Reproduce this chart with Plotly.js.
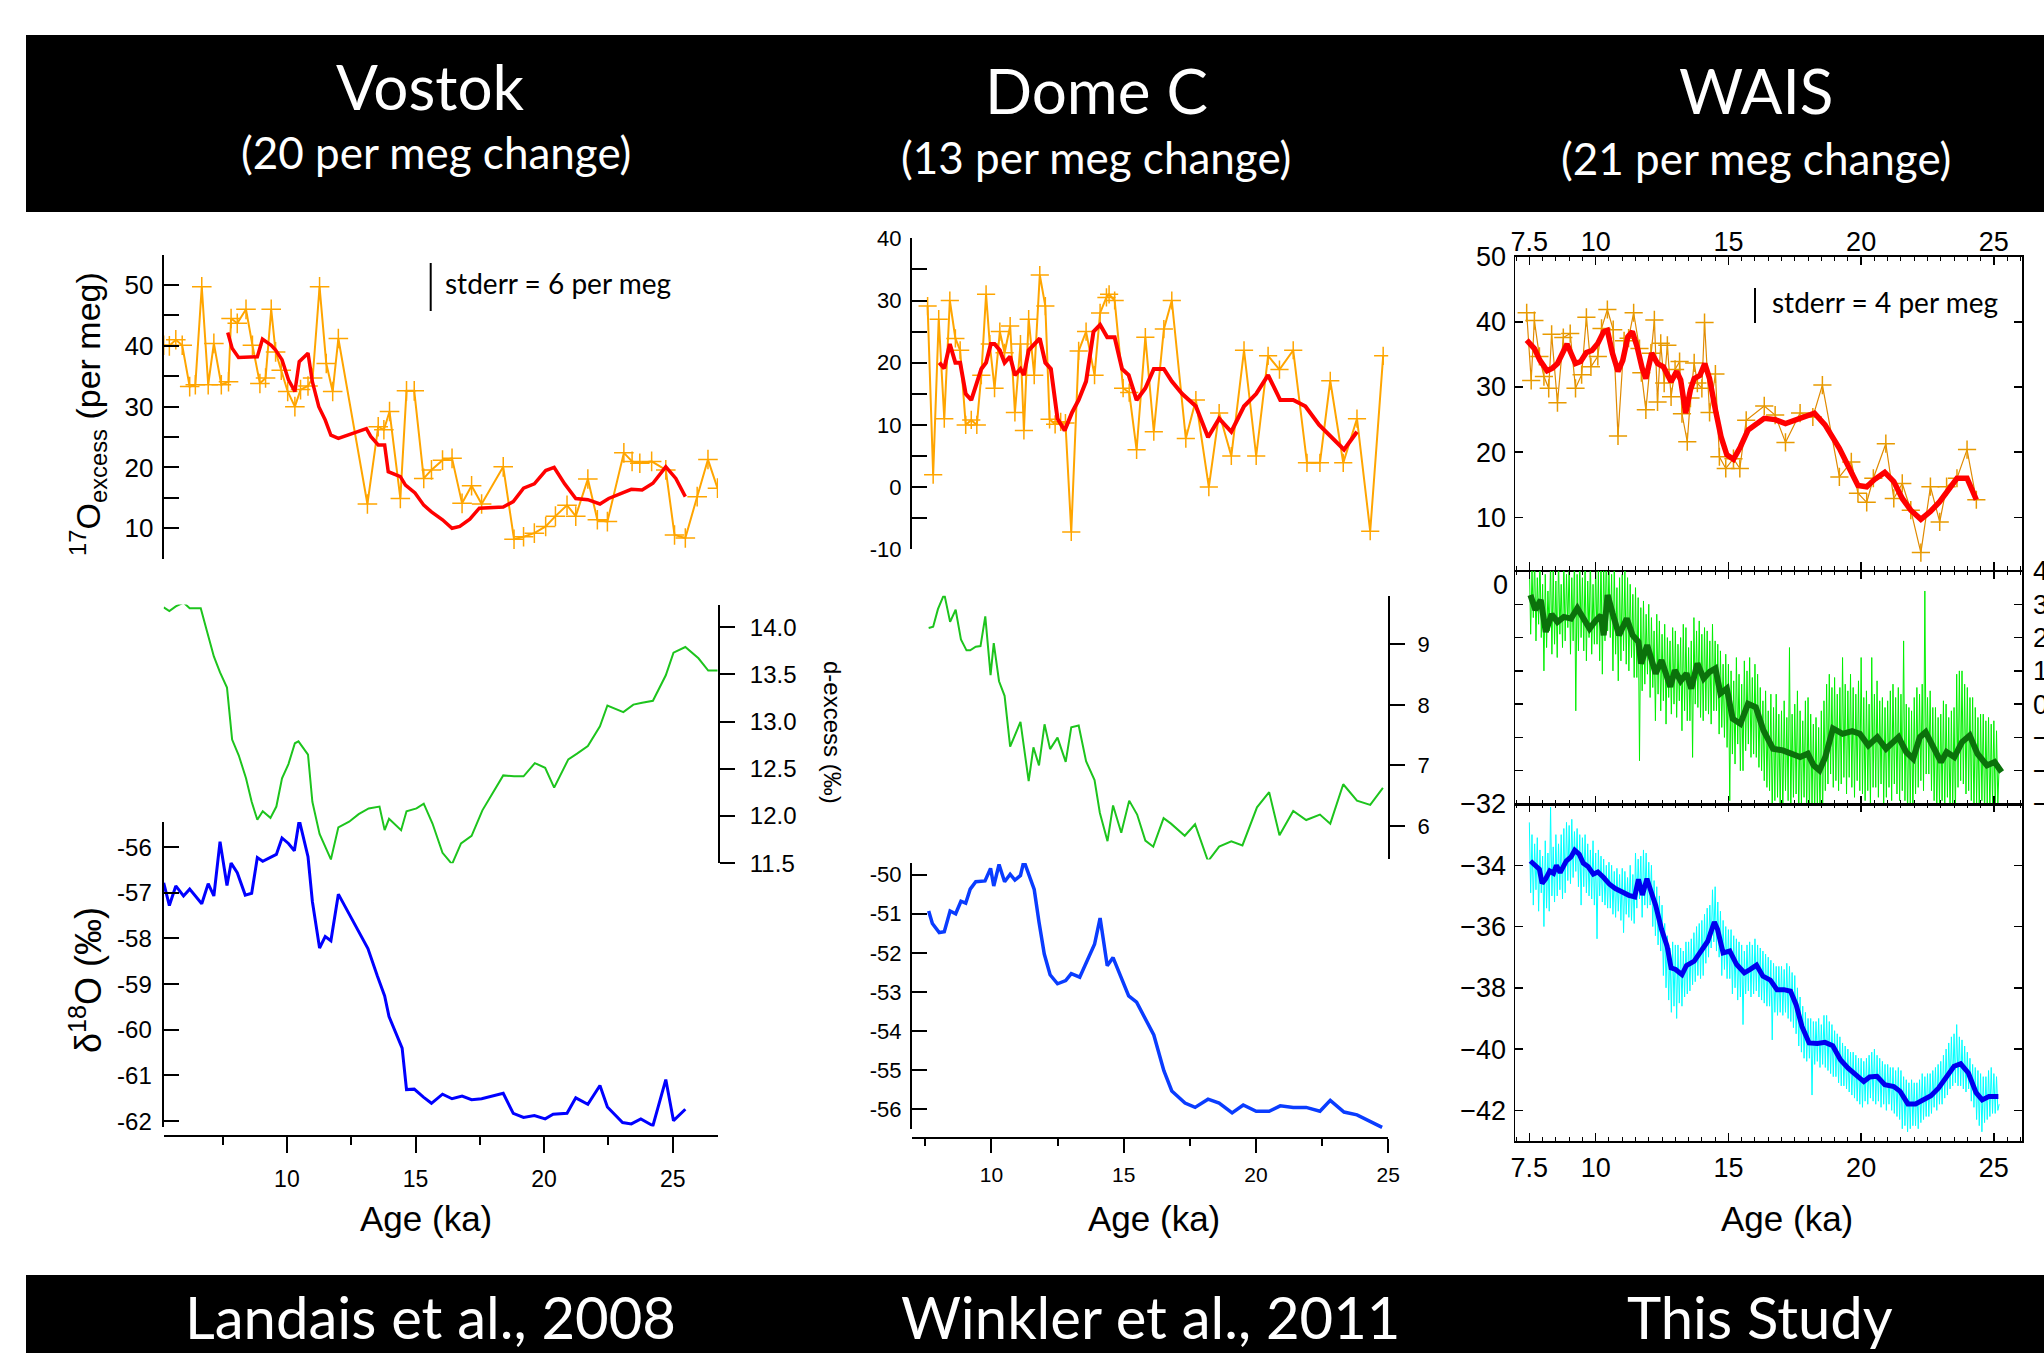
<!DOCTYPE html>
<html>
<head>
<meta charset="utf-8">
<script src="https://cdn.plot.ly/plotly-3.0.1.min.js"></script>
<style>html,body{margin:0;padding:0;background:#fff;}#chart{width:2044px;height:1353px;}</style>
</head>
<body>
<div id="chart"></div>
<script>
// ---------------- DATA ----------------
// Vostok (Landais et al., 2008)
const vAge17 = [5.21,5.43,5.68,5.93,6.22,6.44,6.69,6.94,7.16,7.45,7.73,7.83,8.07,8.41,8.66,8.95,9.17,9.39,9.56,9.78,10.03,10.31,10.53,10.82,11.0,11.27,11.53,11.78,12.0,13.13,13.55,13.77,13.99,14.41,14.65,14.95,15.32,15.62,16.05,16.42,16.81,17.18,17.57,18.41,18.83,19.2,19.62,20.06,20.44,20.89,21.23,21.7,22.07,22.46,23.1,23.42,23.72,24.18,24.73,25.07,25.49,25.95,26.37,26.74];
const v17 = [40.1,40.0,41.0,40.1,33.3,33.6,49.7,33.6,40.4,33.6,34.1,44.5,43.7,46.0,40.1,33.8,34.7,46.0,39.0,36.0,32.5,30.0,32.8,33.4,34.7,49.7,37.1,32.5,41.2,14.0,26.7,26.2,29.2,14.9,32.6,32.6,18.2,19.6,21.2,21.5,14.1,17.0,14.0,20.1,8.2,8.6,9.2,10.3,12.0,13.8,12.0,18.1,11.4,11.1,22.4,21.0,20.7,21.0,19.6,8.9,8.4,15.2,21.3,16.6];
const vAgeSm = [7.70,7.87,8.12,8.46,8.85,9.05,9.39,9.56,9.81,10.06,10.31,10.48,10.82,10.99,11.24,11.49,11.71,12.0,13.09,13.26,13.55,13.80,13.94,14.41,14.61,14.98,15.32,15.62,16.05,16.42,16.72,17.11,17.48,18.41,18.80,19.2,19.62,20.06,20.39,20.8,21.23,21.7,22.17,22.51,23.05,23.39,23.81,24.23,24.73,25.12,25.49];
const v17Sm = [42.2,39.6,38.1,38.1,38.2,41.1,40.1,39.3,37.7,34.4,32.5,37.4,38.8,34.1,30.0,27.8,25.3,24.8,26.4,25.1,23.7,23.7,19.3,18.5,17.1,15.8,13.8,12.7,11.4,10.0,10.3,11.5,13.3,13.5,14.4,16.6,17.3,19.5,20.0,17.3,14.9,14.7,14.0,14.9,15.8,16.4,16.3,17.4,20.1,18.2,15.2];
const vAgeDx = [5.21,5.43,5.68,5.98,6.22,6.65,6.89,7.16,7.40,7.67,7.87,8.13,8.41,8.63,8.85,9.06,9.36,9.59,9.81,10.06,10.31,10.45,10.82,10.99,11.27,11.49,11.71,12.0,12.42,12.79,13.18,13.6,13.8,13.97,14.44,14.65,15.04,15.32,15.66,16.05,16.42,16.77,17.18,17.6,17.99,18.41,18.83,19.2,19.64,20.04,20.39,20.94,21.28,21.7,22.17,22.46,23.08,23.47,23.81,24.23,24.73,25.03,25.49,26.0,26.38,26.74];
const vDx = [14.21,14.17,14.22,14.26,14.20,14.20,13.96,13.69,13.52,13.36,12.81,12.64,12.40,12.15,11.96,12.05,11.98,12.10,12.40,12.55,12.77,12.79,12.65,12.15,11.81,11.68,11.54,11.88,11.94,12.02,12.08,12.10,11.85,11.97,11.85,12.05,12.08,12.13,11.92,11.61,11.49,11.71,11.79,12.06,12.24,12.43,12.42,12.42,12.56,12.51,12.30,12.60,12.66,12.74,12.95,13.17,13.10,13.18,13.20,13.22,13.49,13.73,13.79,13.67,13.54,13.54];
const vAgeD18 = [5.21,5.43,5.68,5.98,6.22,6.69,6.94,7.16,7.40,7.67,7.83,8.07,8.38,8.63,8.85,9.06,9.59,9.81,10.06,10.29,10.48,10.82,10.99,11.27,11.49,11.71,12.0,12.59,13.15,13.52,13.8,13.97,14.48,14.65,14.95,15.32,15.62,16.05,16.42,16.81,17.18,17.57,17.99,18.41,18.8,19.2,19.62,20.04,20.35,20.89,21.23,21.7,22.17,22.46,23.05,23.39,23.76,24.23,24.73,25.03,25.49];
const vD18 = [-56.78,-57.28,-56.85,-57.07,-56.92,-57.24,-56.80,-57.07,-55.88,-56.84,-56.35,-56.56,-57.05,-57.01,-56.23,-56.31,-56.16,-55.80,-55.92,-56.08,-55.41,-56.21,-57.19,-58.21,-57.96,-58.05,-57.03,-57.64,-58.22,-58.83,-59.26,-59.71,-60.40,-61.31,-61.30,-61.48,-61.61,-61.41,-61.51,-61.45,-61.53,-61.51,-61.45,-61.39,-61.83,-61.92,-61.88,-61.95,-61.85,-61.83,-61.49,-61.63,-61.22,-61.69,-62.03,-62.06,-61.95,-62.10,-61.09,-61.99,-61.74];

// Dome C (Winkler et al., 2011)
const dAge17 = [7.59,7.80,8.01,8.22,8.43,8.64,8.82,9.03,9.24,9.45,9.62,9.80,9.94,10.12,10.32,10.50,10.71,10.89,11.10,11.23,11.41,11.62,11.83,12.04,12.2,12.41,12.62,12.80,13.02,13.30,13.58,13.90,14.11,14.35,14.45,14.66,14.98,15.21,15.49,15.82,16.14,16.52,16.82,17.35,17.73,18.22,18.61,19.07,19.55,20.01,20.46,20.89,21.41,21.93,22.42,22.81,23.30,23.82,24.32,24.81];
const d17 = [29.1,2.0,27.0,11.0,30.0,23.9,22.0,10.0,10.8,10.0,18.0,31.0,23.0,15.9,25.0,21.6,25.9,12.0,23.0,9.1,27.0,18.0,34.1,29.1,10.9,10.1,10.5,10.3,-7.2,21.9,25.0,18.0,28.0,30.5,31.0,30.0,15.9,15.2,6.0,24.1,8.9,25.4,30.0,7.8,14.0,0.0,11.9,5.0,22.0,5.0,21.1,18.9,22.0,3.9,3.9,17.1,3.9,11.0,-7.1,21.1];
const dAgeSm = [8.03,8.22,8.43,8.64,8.82,9.03,9.24,9.62,9.80,9.98,10.12,10.32,10.50,10.71,10.89,11.10,11.23,11.41,11.83,12.04,12.25,12.5,12.77,13.05,13.30,13.58,13.86,14.11,14.38,14.66,14.94,15.19,15.49,15.82,16.14,16.52,16.82,17.21,17.73,18.19,18.61,19.07,19.55,20.01,20.46,20.92,21.41,21.87,22.39,22.85,23.33,23.82];
const dSm = [20.0,19.1,23.0,20.0,20.0,15.0,14.0,19.0,20.0,23.0,23.0,22.0,20.0,21.0,18.0,19.0,18.0,22.0,23.9,20.0,19.0,11.0,9.1,12.0,14.0,17.0,25.0,26.1,24.1,24.1,19.0,18.0,14.0,15.9,19.0,19.0,17.0,15.0,13.0,8.0,11.0,8.9,13.0,15.0,18.0,14.0,14.0,13.0,10.0,8.0,6.0,8.9];
const dAgeDx = [7.63,7.8,7.98,8.22,8.44,8.65,8.85,9.06,9.2,9.41,9.59,9.77,9.97,10.09,10.29,10.5,10.71,11.1,11.41,11.59,11.80,12.01,12.22,12.5,12.81,13.02,13.30,13.58,13.90,14.10,14.39,14.6,14.91,15.21,15.51,15.82,16.12,16.51,16.79,17.31,17.70,18.19,18.61,19.07,19.49,20.04,20.5,20.89,21.41,21.9,22.42,22.81,23.30,23.82,24.32,24.80];
const dDx = [9.27,9.29,9.58,9.83,9.37,9.57,9.08,8.90,8.90,8.96,8.97,9.46,8.49,9.02,8.39,8.15,7.31,7.72,6.74,7.30,7.0,7.68,7.27,7.46,7.06,7.63,7.66,7.07,6.76,6.22,5.75,6.34,5.89,6.42,6.19,5.76,5.66,6.13,6.04,5.84,6.03,5.42,5.66,5.75,5.68,6.31,6.56,5.85,6.25,6.10,6.19,6.04,6.69,6.42,6.35,6.63];
const dAgeD18 = [7.63,7.77,8.03,8.22,8.44,8.65,8.85,9.03,9.2,9.41,9.76,9.97,10.09,10.29,10.5,10.71,10.89,11.1,11.23,11.41,11.62,11.80,12.0,12.22,12.5,12.81,13.02,13.34,13.58,13.90,14.11,14.38,14.6,14.91,15.19,15.49,15.82,16.14,16.52,16.82,17.32,17.7,18.19,18.61,19.10,19.52,20.01,20.50,20.92,21.41,21.9,22.42,22.81,23.33,23.82,24.32,24.77];
const dD18 = [-50.93,-51.25,-51.48,-51.46,-50.93,-51.0,-50.68,-50.73,-50.37,-50.18,-50.16,-49.84,-50.29,-49.74,-50.18,-49.99,-50.14,-50.02,-49.65,-49.97,-50.38,-51.21,-52.03,-52.56,-52.79,-52.71,-52.53,-52.62,-52.26,-51.78,-51.11,-52.33,-52.12,-52.64,-53.10,-53.26,-53.70,-54.1,-55.01,-55.53,-55.84,-55.95,-55.74,-55.84,-56.09,-55.89,-56.05,-56.05,-55.91,-55.95,-55.95,-56.05,-55.77,-56.07,-56.14,-56.32,-56.46];

// WAIS (This Study)
const wAge17 = [7.40,7.57,7.69,7.88,8.05,8.23,8.34,8.56,8.78,9.04,9.24,9.47,9.65,9.82,10.08,10.22,10.44,10.66,10.84,11.07,11.24,11.43,11.65,11.72,11.89,12.08,12.21,12.33,12.45,12.58,12.70,12.84,12.99,13.16,13.25,13.45,13.57,13.71,13.83,14.00,14.1,14.29,14.51,14.66,14.9,15.19,15.43,15.67,16.35,16.76,17.15,17.70,18.18,18.54,19.18,19.63,19.88,20.21,20.46,20.93,21.23,21.55,21.87,22.25,22.61,22.96,23.22,23.61,23.99,24.34];
const w17 = [41.4,31.0,40.2,34.7,31.6,29.8,38.1,27.6,37.6,38.2,29.8,31.9,40.7,33.1,34.7,39.0,41.9,38.8,22.5,37.1,37.5,41.4,35.9,32.2,26.5,35.2,40.3,27.7,36.7,30.6,36.4,28.5,32.7,33.9,25.9,21.6,28.3,33.7,30.6,29.8,39.9,26.1,32.0,19.3,17.5,19.0,17.5,24.9,27.1,25.7,21.5,26.0,25.4,30.3,16.2,18.5,13.7,12.3,16.0,21.3,12.9,15.2,11.1,4.6,14.7,9.3,14.7,16.0,20.4,12.7];
const wAgeSm = [7.40,7.69,7.9,8.17,8.37,8.56,8.92,9.24,9.43,9.65,9.86,10.08,10.3,10.44,10.63,10.84,11.02,11.21,11.38,11.56,11.75,11.89,12.11,12.33,12.55,12.84,13.05,13.2,13.39,13.57,13.71,13.93,14.11,14.29,14.51,14.72,14.94,15.19,15.45,15.74,16.35,16.76,17.15,17.70,18.24,18.64,19.18,19.52,19.88,20.21,20.5,20.89,21.23,21.55,21.87,22.25,22.61,22.96,23.29,23.61,23.99,24.34];
const wSm = [37.2,35.9,34.1,32.5,32.9,33.6,36.6,33.6,33.9,35.3,35.6,36.7,38.5,38.7,35.2,32.4,34.1,37.7,38.5,36.2,32.9,31.3,35.2,33.6,33.1,30.8,32.4,31.1,26.0,29.6,31.3,31.8,33.6,31.3,26.5,22.4,19.6,18.9,20.8,23.4,25.2,25.0,24.4,25.2,26.0,24.2,20.6,17.8,14.9,14.7,15.8,16.9,15.5,12.9,11.1,9.7,10.9,12.4,14.3,16.0,16.0,12.7];
const wNoiseAge = [7.5,7.55,7.6,7.65,7.7,7.75,7.8,7.85,7.9,7.95,8.0,8.05,8.1,8.15,8.2,8.25,8.3,8.35,8.4,8.45,8.5,8.55,8.6,8.65,8.7,8.75,8.8,8.85,8.9,8.95,9.0,9.05,9.1,9.15,9.2,9.25,9.3,9.35,9.4,9.45,9.5,9.55,9.6,9.65,9.7,9.75,9.8,9.85,9.9,9.95,10.0,10.05,10.1,10.15,10.2,10.25,10.3,10.35,10.4,10.45,10.5,10.55,10.6,10.65,10.7,10.75,10.8,10.85,10.9,10.95,11.0,11.05,11.1,11.15,11.2,11.25,11.3,11.35,11.4,11.45,11.5,11.55,11.6,11.65,11.7,11.75,11.8,11.85,11.9,11.95,12.0,12.05,12.1,12.15,12.2,12.25,12.3,12.35,12.4,12.45,12.5,12.55,12.6,12.65,12.7,12.75,12.8,12.85,12.9,12.95,13.0,13.05,13.1,13.15,13.2,13.25,13.3,13.35,13.4,13.45,13.5,13.55,13.6,13.65,13.7,13.75,13.8,13.85,13.9,13.95,14.0,14.05,14.1,14.15,14.2,14.25,14.3,14.35,14.4,14.45,14.5,14.55,14.6,14.65,14.7,14.75,14.8,14.85,14.9,14.95,15.0,15.05,15.1,15.15,15.2,15.25,15.3,15.35,15.4,15.45,15.5,15.55,15.6,15.65,15.7,15.75,15.8,15.85,15.9,15.95,16.0,16.05,16.1,16.15,16.2,16.25,16.3,16.35,16.4,16.45,16.5,16.55,16.6,16.65,16.7,16.75,16.8,16.85,16.9,16.95,17.0,17.05,17.1,17.15,17.2,17.25,17.3,17.35,17.4,17.45,17.5,17.55,17.6,17.65,17.7,17.75,17.8,17.85,17.9,17.95,18.0,18.05,18.1,18.15,18.2,18.25,18.3,18.35,18.4,18.45,18.5,18.55,18.6,18.65,18.7,18.75,18.8,18.85,18.9,18.95,19.0,19.05,19.1,19.15,19.2,19.25,19.3,19.35,19.4,19.45,19.5,19.55,19.6,19.65,19.7,19.75,19.8,19.85,19.9,19.95,20.0,20.05,20.1,20.15,20.2,20.25,20.3,20.35,20.4,20.45,20.5,20.55,20.6,20.65,20.7,20.75,20.8,20.85,20.9,20.95,21.0,21.05,21.1,21.15,21.2,21.25,21.3,21.35,21.4,21.45,21.5,21.55,21.6,21.65,21.7,21.75,21.8,21.85,21.9,21.95,22.0,22.05,22.1,22.15,22.2,22.25,22.3,22.35,22.4,22.45,22.5,22.55,22.6,22.65,22.7,22.75,22.8,22.85,22.9,22.95,23.0,23.05,23.1,23.15,23.2,23.25,23.3,23.35,23.4,23.45,23.5,23.55,23.6,23.65,23.7,23.75,23.8,23.85,23.9,23.95,24.0,24.05,24.1,24.15,24.2,24.25,24.3,24.35,24.4,24.45,24.5,24.55,24.6,24.65,24.7,24.75,24.8,24.85,24.9,24.95,25.0,25.05,25.1,25.15,25.2];
const wDxNoise = [
 4.3,2.1,4.0,2.6,4.4,1.9,3.8,2.4,4.5,2.0, 3.6,1.0,3.9,1.7,3.4,2.2,4.3,1.5,4.1,1.8,
 3.7,1.4,4.4,2.1,3.6,1.7,4.2,1.9,3.9,2.3, 4.2,1.5,3.8,1.9,4.5,-0.2,3.9,1.6,4.3,2.0,
 3.8,1.6,4.1,1.3,3.7,2.0,4.4,1.5,3.6,1.8, 4.2,1.8,4.0,1.3,4.5,0.9,4.3,1.9,4.6,2.2,
 4.1,2.0,3.9,1.0,4.2,1.5,3.5,0.7,3.8,1.3, 3.9,1.6,4.0,1.2,3.8,1.0,3.6,1.4,3.3,0.8,
 3.5,0.8,3.2,-1.7,2.9,0.4,3.1,0.6,2.7,0.9, 3.0,0.2,2.6,0.5,2.2,-0.5,2.7,0.3,2.5,-0.2,
 2.1,0.1,2.4,-0.6,2.0,0.2,1.9,-0.3,2.3,0.0, 2.2,-0.4,1.8,0.1,2.0,-0.8,2.4,-0.2,2.3,-0.5,
 1.7,-0.5,1.9,-1.6,2.6,0.0,2.2,-0.1,2.5,-0.4, 2.1,-0.5,2.3,-0.2,2.2,-0.3,1.9,-0.6,2.4,-0.2,
 1.9,-0.2,1.8,-0.9,1.6,-0.7,1.2,-1.0,1.5,-1.3, 1.2,-2.9,1.0,-1.5,0.7,-1.8,1.4,-1.2,0.9,-2.0,
 0.6,-2.0,1.3,-1.4,1.0,-1.2,1.4,-1.6,0.8,-1.5, 1.2,-1.6,0.9,-1.9,0.5,-2.0,0.1,-2.3,0.4,-2.5,
 -0.2,-2.6,0.3,-3.4,-0.1,-2.9,0.3,-2.8,-0.3,-3.2, -0.2,-3.4,0.1,-2.6,-0.4,-2.9,1.7,-3.3,-0.3,-2.8,
 0.0,-2.7,0.4,-3.4,-0.2,-3.0,-0.5,-2.8,0.1,-3.3, 0.2,-3.4,-0.3,-3.0,-0.6,-3.4,-0.4,-3.2,-0.7,-3.4,
 -0.2,-3.4,0.1,-2.6,0.6,-2.4,0.9,-2.1,0.5,-2.5, 0.8,-2.3,0.3,-2.6,0.5,-2.4,1.4,-2.2,0.6,-2.7,
 0.4,-2.2,0.9,-2.5,0.5,-2.8,0.3,-2.3,0.7,-2.6, 1.4,-2.7,0.2,-2.9,0.4,-2.6,0.0,-3.1,1.4,-2.5,
 0.3,-2.5,0.7,-2.8,0.1,-2.4,0.2,-3.0,-0.1,-2.8, 0.1,-2.5,0.4,-2.9,0.6,-2.4,0.2,-2.7,0.5,-2.9,
 0.3,-2.6,1.9,-2.9,0.0,-3.4,-0.1,-3.0,-0.2,-3.4, 0.2,-2.7,0.5,-2.5,0.3,-2.3,0.6,-2.6,3.4,-2.1,
 0.2,-2.1,0.4,-2.6,-0.1,-2.9,-0.1,-3.4,-0.4,-3.0, -0.3,-2.9,0.1,-3.2,0.0,-2.8,-0.4,-3.4,-0.2,-3.1,
 -0.1,-3.4,0.9,-2.5,1.0,-2.3,1.0,-2.4,0.6,-2.7, 0.5,-2.6,0.2,-2.9,0.2,-3.4,-0.1,-3.0,-0.4,-3.3,
 -0.3,-2.9,-0.3,-3.4,-0.5,-3.0,-0.4,-3.4,-0.6,-3.0, -0.5,-3.4,-0.8,-3.0,-1.8];
const wAgeDs = [7.54,7.73,7.93,8.12,8.34,8.56,8.80,9.07,9.31,9.53,9.77,10.01,10.2,10.3,10.45,10.64,10.88,11.17,11.39,11.61,11.71,11.94,12.26,12.48,12.81,12.98,13.2,13.42,13.6,13.83,14.07,14.29,14.51,14.70,14.94,15.16,15.45,15.74,16.03,16.32,16.68,17.05,17.34,17.70,17.99,18.21,18.43,18.65,18.94,19.30,19.66,19.95,20.27,20.61,20.94,21.19,21.41,21.70,21.96,22.21,22.43,22.72,23.01,23.22,23.51,23.80,24.09,24.38,24.74,25.03,25.29];
const wDs = [3.28,2.83,3.13,2.17,2.70,2.47,2.62,2.57,2.88,2.57,2.27,2.52,2.67,2.07,3.28,2.72,2.07,2.57,2.07,1.87,1.22,1.77,0.92,1.32,0.52,1.02,0.70,0.92,0.47,1.22,0.77,0.97,1.07,0.32,0.47,-0.44,-0.59,0.01,-0.09,-0.79,-1.34,-1.39,-1.49,-1.59,-1.49,-1.84,-1.99,-1.59,-0.73,-0.89,-0.81,-0.89,-1.24,-0.99,-1.34,-1.14,-0.99,-1.44,-1.64,-0.99,-0.84,-1.29,-1.74,-1.44,-1.59,-1.14,-0.94,-1.49,-1.84,-1.74,-2.04];
const wD18Noise = [
 -32.6,-34.9,-33.0,-35.3,-33.3,-34.8,-33.1,-35.5,-33.5,-34.9, -33.7,-36.0,-33.2,-35.4,-33.6,-35.5,-32.1,-35.0,-33.4,-35.2,
 -33.0,-35.0,-33.3,-34.8,-33.0,-35.1,-32.8,-34.9,-32.6,-34.5, -32.7,-34.6,-32.5,-34.4,-32.9,-34.2,-32.8,-34.7,-33.0,-35.3,
 -33.1,-34.7,-33.0,-34.9,-33.3,-35.0,-33.5,-35.1,-33.2,-35.3, -33.6,-36.4,-33.5,-35.0,-33.7,-35.2,-33.8,-35.3,-34.0,-35.4,
 -33.9,-35.4,-34.0,-35.6,-34.2,-35.7,-34.1,-35.5,-34.3,-35.8, -34.1,-36.2,-34.2,-35.6,-34.4,-35.7,-34.0,-35.8,-34.3,-35.9,
 -33.6,-35.4,-33.8,-35.1,-33.7,-35.7,-33.5,-35.3,-33.6,-35.4, -33.9,-35.3,-34.0,-36.0,-34.5,-36.3,-34.7,-36.6,-35.0,-36.8,
 -35.3,-37.6,-35.9,-38.0,-36.3,-38.4,-36.7,-38.8,-36.5,-38.6, -36.6,-39.0,-36.6,-38.5,-36.7,-38.6,-36.8,-38.3,-36.5,-38.2,
 -36.5,-38.1,-36.4,-37.9,-36.2,-37.8,-36.0,-37.6,-35.9,-37.7, -35.8,-37.6,-35.6,-37.2,-35.4,-37.0,-35.3,-36.7,-34.8,-36.5,
 -34.7,-36.8,-35.2,-37.0,-35.5,-37.6,-35.8,-37.4,-36.0,-37.7, -36.1,-37.7,-36.1,-38.2,-36.3,-38.0,-36.4,-38.4,-36.5,-38.3,
 -36.6,-39.2,-36.8,-38.2,-36.6,-38.1,-36.5,-38.3,-36.6,-38.2, -36.4,-38.1,-36.6,-38.3,-36.7,-38.4,-36.8,-38.5,-36.9,-38.6,
 -37.0,-38.6,-37.1,-39.7,-37.2,-38.8,-37.3,-38.9,-37.3,-38.8, -37.3,-38.9,-37.4,-38.8,-37.2,-39.0,-37.3,-39.1,-37.5,-39.3,
 -37.6,-39.5,-38.0,-39.9,-38.3,-40.1,-38.6,-40.3,-38.8,-40.4, -39.0,-40.3,-39.0,-41.5,-39.1,-40.5,-39.1,-40.4,-39.0,-40.6,
 -39.2,-40.5,-38.9,-40.6,-38.9,-40.7,-39.1,-40.8,-39.2,-40.9, -39.4,-40.9,-39.5,-41.1,-39.6,-41.2,-39.8,-41.2,-39.9,-41.3,
 -40.0,-41.4,-40.1,-41.5,-40.1,-41.6,-40.2,-41.7,-40.3,-41.8, -40.3,-41.9,-40.4,-41.7,-40.3,-41.8,-40.2,-41.6,-40.1,-41.7,
 -40.0,-41.8,-40.2,-41.7,-40.3,-41.9,-40.4,-41.8,-40.5,-42.0, -40.5,-41.8,-40.6,-42.0,-40.6,-42.1,-40.7,-42.2,-40.6,-42.3,
 -40.7,-42.6,-40.9,-42.5,-41.0,-42.7,-41.1,-42.6,-41.0,-42.5, -41.1,-42.5,-41.1,-42.6,-41.0,-42.4,-40.8,-42.3,-40.9,-42.2,
 -40.8,-42.2,-40.8,-42.1,-40.7,-41.9,-40.6,-42.0,-40.5,-41.8, -40.4,-41.8,-40.2,-41.6,-40.0,-41.5,-39.8,-41.3,-39.6,-41.2,
 -39.5,-41.1,-39.2,-41.2,-39.6,-41.2,-39.7,-41.3,-39.9,-41.4, -40.1,-41.3,-40.3,-41.7,-40.5,-41.9,-40.6,-42.3,-40.7,-42.5,
 -40.8,-42.7,-40.9,-42.4,-40.9,-42.3,-40.7,-42.2,-40.6,-42.1, -40.8,-42.1,-40.9,-42.0,-41.8];
const wAgeBs = [7.54,7.73,7.88,7.98,8.12,8.27,8.41,8.52,8.66,8.89,9.07,9.21,9.38,9.53,9.72,9.91,10.08,10.30,10.52,10.74,10.99,11.25,11.47,11.61,11.76,11.93,12.11,12.26,12.48,12.69,12.84,13.01,13.25,13.42,13.71,14.00,14.22,14.47,14.59,14.80,15.05,15.31,15.60,15.82,16.06,16.30,16.58,16.83,17.09,17.34,17.55,17.77,18.04,18.35,18.64,18.93,19.22,19.51,19.81,20.10,20.32,20.60,20.89,21.23,21.47,21.76,22.05,22.34,22.63,22.92,23.21,23.50,23.75,24.04,24.33,24.56,24.81,25.17];
const wBs = [-33.86,-34.0,-34.13,-34.59,-34.44,-34.19,-34.26,-34.0,-34.24,-33.86,-33.73,-33.51,-33.64,-33.93,-34.05,-34.29,-34.22,-34.40,-34.62,-34.76,-34.87,-34.98,-35.03,-34.46,-34.97,-34.44,-34.92,-35.31,-36.09,-36.64,-37.35,-37.40,-37.57,-37.27,-37.13,-36.73,-36.48,-35.85,-36.09,-36.86,-36.80,-37.24,-37.51,-37.40,-37.26,-37.62,-37.75,-38.06,-38.06,-38.11,-38.55,-39.26,-39.80,-39.82,-39.78,-39.89,-40.35,-40.62,-40.84,-41.06,-40.91,-40.89,-41.16,-41.22,-41.38,-41.79,-41.79,-41.66,-41.52,-41.27,-40.89,-40.56,-40.48,-40.78,-41.42,-41.66,-41.55,-41.55];

// tick labels
const ageTicks = [10,15,20,25];
const ageMinor = [7.5,12.5,17.5,22.5];
const wAgeTicks = [7.5,10,15,20,25];
const vDxTicks = [11.5,12.0,12.5,13.0,13.5,14.0];
const vDxText = ['11.5','12.0','12.5','13.0','13.5','14.0'];
const vD18Ticks = [-62,-61,-60,-59,-58,-57,-56];
const vD18Text = ['-62','-61','-60','-59','-58','-57','-56'];
const d17Ticks = [-10,0,10,20,30,40];
const d17Text = ['-10','0','10','20','30','40'];
const dD18Ticks = [-56,-55,-54,-53,-52,-51,-50];
const dD18Text = ['-56','-55','-54','-53','-52','-51','-50'];

// ---------------- LAYOUT HELPERS ----------------
const W = 2044, H = 1353;
const fx = p => p / W;
const fy = p => 1 - p / H;
const AXF = 'Liberation Sans, Arial, sans-serif';
const BF = 'Lato, Open Sans, sans-serif';

function ax(extra) {
  return Object.assign({
    showline: true, linecolor: '#000', linewidth: 2,
    tickcolor: '#000', tickwidth: 2, showgrid: false, zeroline: false,
    fixedrange: true, automargin: false,
    tickfont: {family: AXF, size: 24, color: '#000'}
  }, extra);
}
const WX = [fx(1515), fx(2022)];
const WR = [6.96, 26.06];
const WF = {family: AXF, size: 27, color: '#000'};
function wx(extra) {
  return ax(Object.assign({
    domain: WX, range: WR, linewidth: 1.5, tickwidth: 1.5,
    mirror: 'allticks', ticks: 'inside', ticklen: 8, tickvals: wAgeTicks, tickfont: WF,
    minor: {dtick: 0.5, tick0: 7.5, ticks: 'inside', ticklen: 4, tickwidth: 1, tickcolor: '#000'}
  }, extra));
}

const ORANGE = '#FFA500';
const crossV = {symbol: 'cross-thin-open', size: 14, color: ORANGE, line: {width: 1.5, color: ORANGE}};
const DF = {family: AXF, size: 22, color: '#000'};

const traces = [
  // Vostok
  {x: vAge17, y: v17, xaxis: 'x', yaxis: 'y', mode: 'lines+markers', line: {color: ORANGE, width: 2}, marker: crossV},
  {x: vAgeSm, y: v17Sm, xaxis: 'x', yaxis: 'y', mode: 'lines', line: {color: '#FF0000', width: 3.5}},
  {x: vAgeDx, y: vDx, xaxis: 'x', yaxis: 'y2', mode: 'lines', line: {color: '#1DC41D', width: 2}},
  {x: vAgeD18, y: vD18, xaxis: 'x', yaxis: 'y3', mode: 'lines', line: {color: '#0000FF', width: 3}},
  // Dome C
  {x: dAge17, y: d17, xaxis: 'x2', yaxis: 'y4', mode: 'lines+markers', line: {color: ORANGE, width: 2}, marker: {symbol: 'cross-thin-open', size: 13, color: ORANGE, line: {width: 1.5, color: ORANGE}}},
  {x: dAgeSm, y: dSm, xaxis: 'x2', yaxis: 'y4', mode: 'lines', line: {color: '#FF0000', width: 4}},
  {x: dAgeDx, y: dDx, xaxis: 'x2', yaxis: 'y5', mode: 'lines', line: {color: '#1DC41D', width: 2}},
  {x: dAgeD18, y: dD18, xaxis: 'x2', yaxis: 'y6', mode: 'lines', line: {color: '#0A3CFF', width: 3.5}},
  // WAIS
  {x: wAge17, y: w17, xaxis: 'x3', yaxis: 'y7', mode: 'lines+markers', line: {color: '#E08A00', width: 1.2}, marker: {symbol: 'cross-thin-open', size: 13, color: '#E89A00', line: {width: 1.5, color: '#E89A00'}}},
  {x: wAgeSm, y: wSm, xaxis: 'x3', yaxis: 'y7', mode: 'lines', line: {color: '#FF0000', width: 5.5}},
  {x: wNoiseAge, y: wDxNoise, xaxis: 'x4', yaxis: 'y8', mode: 'lines', line: {color: '#00F000', width: 1}},
  {x: wAgeDs, y: wDs, xaxis: 'x4', yaxis: 'y8', mode: 'lines', line: {color: '#0B720B', width: 6}},
  {x: wNoiseAge, y: wD18Noise, xaxis: 'x5', yaxis: 'y9', mode: 'lines', line: {color: '#00FFFF', width: 1}},
  {x: wAgeBs, y: wBs, xaxis: 'x5', yaxis: 'y9', mode: 'lines', line: {color: '#0000EE', width: 5}}
];
traces.forEach(t => { t.type = 'scatter'; t.hoverinfo = 'skip'; t.showlegend = false; });

function ann(text, x, y, size, opts) {
  return Object.assign({
    text: text, x: fx(x), y: fy(y), xref: 'paper', yref: 'paper',
    showarrow: false, xanchor: 'center', yanchor: 'middle',
    font: {family: AXF, size: size, color: '#000'}
  }, opts || {});
}
const white = s => ({font: {family: BF, size: s, color: '#fff'}});

const layout = {
  width: W, height: H,
  margin: {l: 0, r: 0, t: 0, b: 0, pad: 0},
  paper_bgcolor: '#fff', plot_bgcolor: 'rgba(0,0,0,0)',
  showlegend: false,
  // Vostok
  xaxis: ax({domain: [fx(163.6), fx(718)], range: [5.206, 26.76], anchor: 'free', position: fy(1136),
    ticks: 'outside', ticklen: 16, tickvals: ageTicks, ticklabelstandoff: 6,
    tickfont: {family: AXF, size: 23, color: '#000'},
    minor: {tickvals: ageMinor, ticks: 'outside', ticklen: 8, tickwidth: 2, tickcolor: '#000'}}),
  yaxis: ax({domain: [fy(558.7), fy(254.6)], range: [5, 55], anchor: 'x',
    ticks: 'inside', ticklen: 15, tickvals: [10,20,30,40,50], ticklabelstandoff: 3,
    tickfont: {family: AXF, size: 26, color: '#000'},
    minor: {tickvals: [5,15,25,35,45,55], ticks: 'inside', ticklen: 15, tickwidth: 2, tickcolor: '#000'}}),
  yaxis2: ax({domain: [fy(863.2), fy(604.5)], range: [11.5, 14.24], anchor: 'x', side: 'right',
    ticks: 'outside', ticklen: 15, tickvals: vDxTicks, ticktext: vDxText, ticklabelstandoff: 10}),
  yaxis3: ax({domain: [fy(1126.6), fy(822)], range: [-62.12, -55.45], anchor: 'x',
    ticks: 'inside', ticklen: 15, tickvals: vD18Ticks, ticktext: vD18Text, ticklabelstandoff: 5}),
  // Dome C
  xaxis2: ax({domain: [fx(912), fx(1388.2)], range: [7.0, 25.0], anchor: 'free', position: fy(1137.7),
    ticks: 'outside', ticklen: 14, tickvals: ageTicks, ticklabelstandoff: 4,
    tickfont: {family: AXF, size: 21, color: '#000'},
    minor: {tickvals: ageMinor, ticks: 'outside', ticklen: 7, tickwidth: 2, tickcolor: '#000'}}),
  yaxis4: ax({domain: [fy(549.3), fy(238.3)], range: [-10, 40], anchor: 'x2',
    ticks: 'inside', ticklen: 15, tickvals: d17Ticks, ticktext: d17Text, ticklabelstandoff: 4, tickfont: DF,
    minor: {tickvals: [-5,5,15,25,35], ticks: 'inside', ticklen: 15, tickwidth: 2, tickcolor: '#000'}}),
  yaxis5: ax({domain: [fy(859.4), fy(595.8)], range: [5.45, 9.8], anchor: 'x2', side: 'right',
    ticks: 'outside', ticklen: 15, tickvals: [6,7,8,9], ticklabelstandoff: 8, tickfont: DF}),
  yaxis6: ax({domain: [fy(1128.9), fy(862.9)], range: [-56.5, -49.7], anchor: 'x2',
    ticks: 'inside', ticklen: 15, tickvals: dD18Ticks, ticktext: dD18Text, ticklabelstandoff: 4, tickfont: DF}),
  // WAIS
  xaxis3: wx({anchor: 'y7', side: 'top', ticklabelstandoff: -7}),
  yaxis7: ax({domain: [fy(570), fy(256.7)], range: [1.92, 50], anchor: 'x3', linewidth: 1.5, tickwidth: 1.5,
    mirror: 'allticks', ticks: 'inside', ticklen: 8, tickvals: [10,20,30,40,50], ticklabelstandoff: 2, tickfont: WF}),
  xaxis4: wx({anchor: 'y8', showticklabels: false}),
  yaxis8: ax({domain: [fy(804), fy(571)], range: [-3, 4], anchor: 'x4', side: 'right', linewidth: 1.5, tickwidth: 1.5,
    mirror: 'allticks', ticks: 'inside', ticklen: 8, tickvals: [-3,-2,-1,0,1,2,3,4], ticklabelstandoff: 4, tickfont: WF}),
  xaxis5: wx({anchor: 'y9', side: 'bottom', ticklabelstandoff: 2}),
  yaxis9: ax({domain: [fy(1141), fy(804)], range: [-43, -32], anchor: 'x5', linewidth: 1.5, tickwidth: 1.5,
    mirror: 'allticks', ticks: 'inside', ticklen: 8, tickvals: [-42,-40,-38,-36,-34,-32], ticklabelstandoff: 2, tickfont: WF}),
  shapes: [
    {type: 'rect', xref: 'paper', yref: 'paper', x0: fx(26), x1: 1, y0: fy(212), y1: fy(35), fillcolor: '#000', line: {width: 0}, layer: 'below'},
    {type: 'rect', xref: 'paper', yref: 'paper', x0: fx(26), x1: 1, y0: 0, y1: fy(1275), fillcolor: '#000', line: {width: 0}, layer: 'below'},
    {type: 'line', xref: 'paper', yref: 'paper', x0: fx(430.7), x1: fx(430.7), y0: fy(311), y1: fy(263), line: {color: '#000', width: 2}},
    {type: 'line', xref: 'paper', yref: 'paper', x0: fx(1755), x1: fx(1755), y0: fy(323), y1: fy(288), line: {color: '#000', width: 2}}
  ],
  annotations: [
    ann('Vostok', 430, 86, 62, white(62)),
    ann('(20 per meg change)', 436, 152, 44, white(44)),
    ann('Dome C', 1096, 90, 62, white(62)),
    ann('(13 per meg change)', 1096, 157, 44, white(44)),
    ann('WAIS', 1756, 90, 62, white(62)),
    ann('(21 per meg change)', 1756, 158, 44, white(44)),
    ann('Landais et al., 2008', 430, 1316, 58, white(58)),
    ann('Winkler et al., 2011', 1151, 1316, 58, white(58)),
    ann('This Study', 1760, 1316, 58, white(58)),
    ann('stderr = 6 per meg', 443, 283, 28, {xanchor: 'left', font: {family: BF, size: 28, color: '#000'}}),
    ann('stderr = 4 per meg', 1770, 302, 28, {xanchor: 'left', font: {family: BF, size: 28, color: '#000'}}),
    ann('<sup>17</sup>O<sub>excess</sub> (per meg)', 88, 414, 34, {textangle: -90}),
    ann('δ<sup>18</sup>O (‰)', 86, 980, 36, {textangle: -90}),
    ann('d-excess (‰)', 833, 732, 24, {textangle: 90}),
    ann('Age (ka)', 426, 1218, 35),
    ann('Age (ka)', 1154, 1218, 35),
    ann('Age (ka)', 1787, 1218, 35),
    ann('0', 1500, 585, 27)
  ]
};

Plotly.newPlot('chart', traces, layout, {displayModeBar: false, staticPlot: true});
</script>
</body>
</html>
